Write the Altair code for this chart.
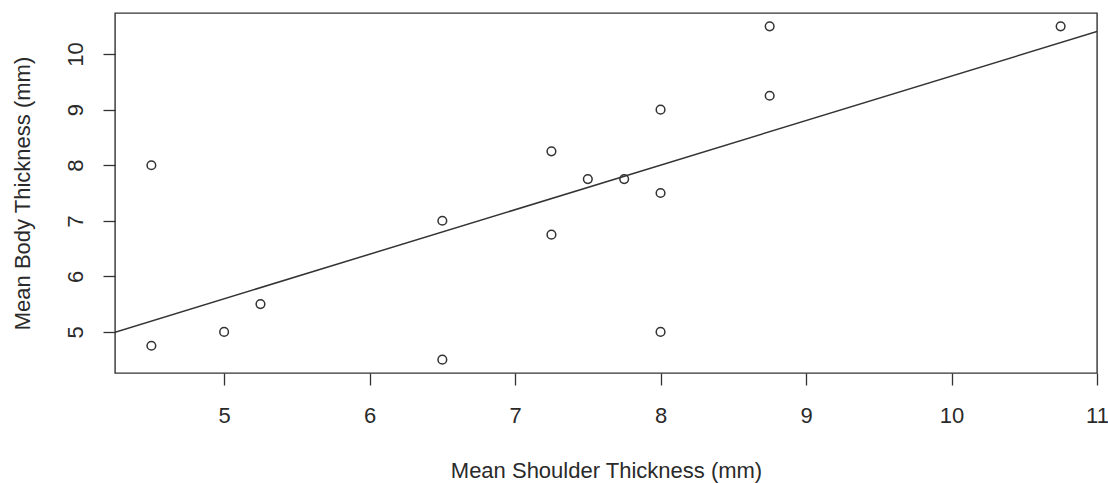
import altair as alt
import pandas as pd

shoulder = [4.5, 4.5, 5.0, 5.25, 6.5, 6.5, 7.25, 7.25, 7.5, 7.75, 8.0, 8.0, 8.0, 8.75, 8.75, 10.75]
body = [8.0, 4.75, 5.0, 5.5, 7.0, 4.5, 8.25, 6.75, 7.75, 7.75, 9.0, 7.5, 5.0, 10.5, 9.25, 10.5]
x_ticks = [5, 6, 7, 8, 9, 10, 11]
y_ticks = [5, 6, 7, 8, 9, 10]

df = pd.DataFrame({"x": shoulder, "y": body})

FONT = "Liberation Sans"
INK = "#333333"
TXT = "#2a2a2a"
FS = 22

xscale = alt.Scale(domain=[4.25, 11.0], nice=False, zero=False)
yscale = alt.Scale(domain=[4.26, 10.74], nice=False, zero=False)

xaxis = alt.Axis(
    values=x_ticks, format="d", title="Mean Shoulder Thickness (mm)", grid=False, domain=False,
    tickSize=12, tickColor=INK, tickWidth=1.3, labelFont=FONT, labelFontSize=FS,
    labelColor=TXT, labelBaseline="middle", labelPadding=30, labelFlush=False,
    labelOverlap=False,
    titleFont=FONT, titleFontSize=FS, titleFontWeight="normal", titleColor=TXT,
    titleBaseline="middle", titleY=97,
)
yaxis = alt.Axis(
    values=y_ticks, format="d", title="Mean Body Thickness (mm)", grid=False, domain=False,
    tickSize=12, tickColor=INK, tickWidth=1.3, labelFont=FONT, labelFontSize=FS,
    labelColor=TXT, labelAngle=270, labelAlign="center", labelBaseline="middle",
    labelPadding=28, labelFlush=False, labelOverlap=False,
    titleFont=FONT, titleFontSize=FS, titleFontWeight="normal", titleColor=TXT,
    titleBaseline="middle", titleX=-93, titleAngle=270,
)

points = alt.Chart(df).mark_point(
    shape="circle", filled=False, size=75, strokeWidth=1.5, color=INK, opacity=1
).encode(
    x=alt.X("x:Q", scale=xscale, axis=xaxis),
    y=alt.Y("y:Q", scale=yscale, axis=yaxis),
)

line = alt.Chart(df).transform_regression(
    "x", "y", extent=[4.25, 11.0]
).mark_line(color=INK, strokeWidth=1.5, clip=True).encode(
    x=alt.X("x:Q", scale=xscale),
    y=alt.Y("y:Q", scale=yscale),
)

chart = alt.layer(points, line).properties(
    width=982, height=360,
    autosize=alt.AutoSizeParams(type="none"),
    padding={"left": 115, "top": 13, "right": 11, "bottom": 110},
    background="white",
).configure_view(stroke=INK, strokeWidth=1.4)

chart.save("out.html", embed_options={"renderer": "svg", "actions": False})
